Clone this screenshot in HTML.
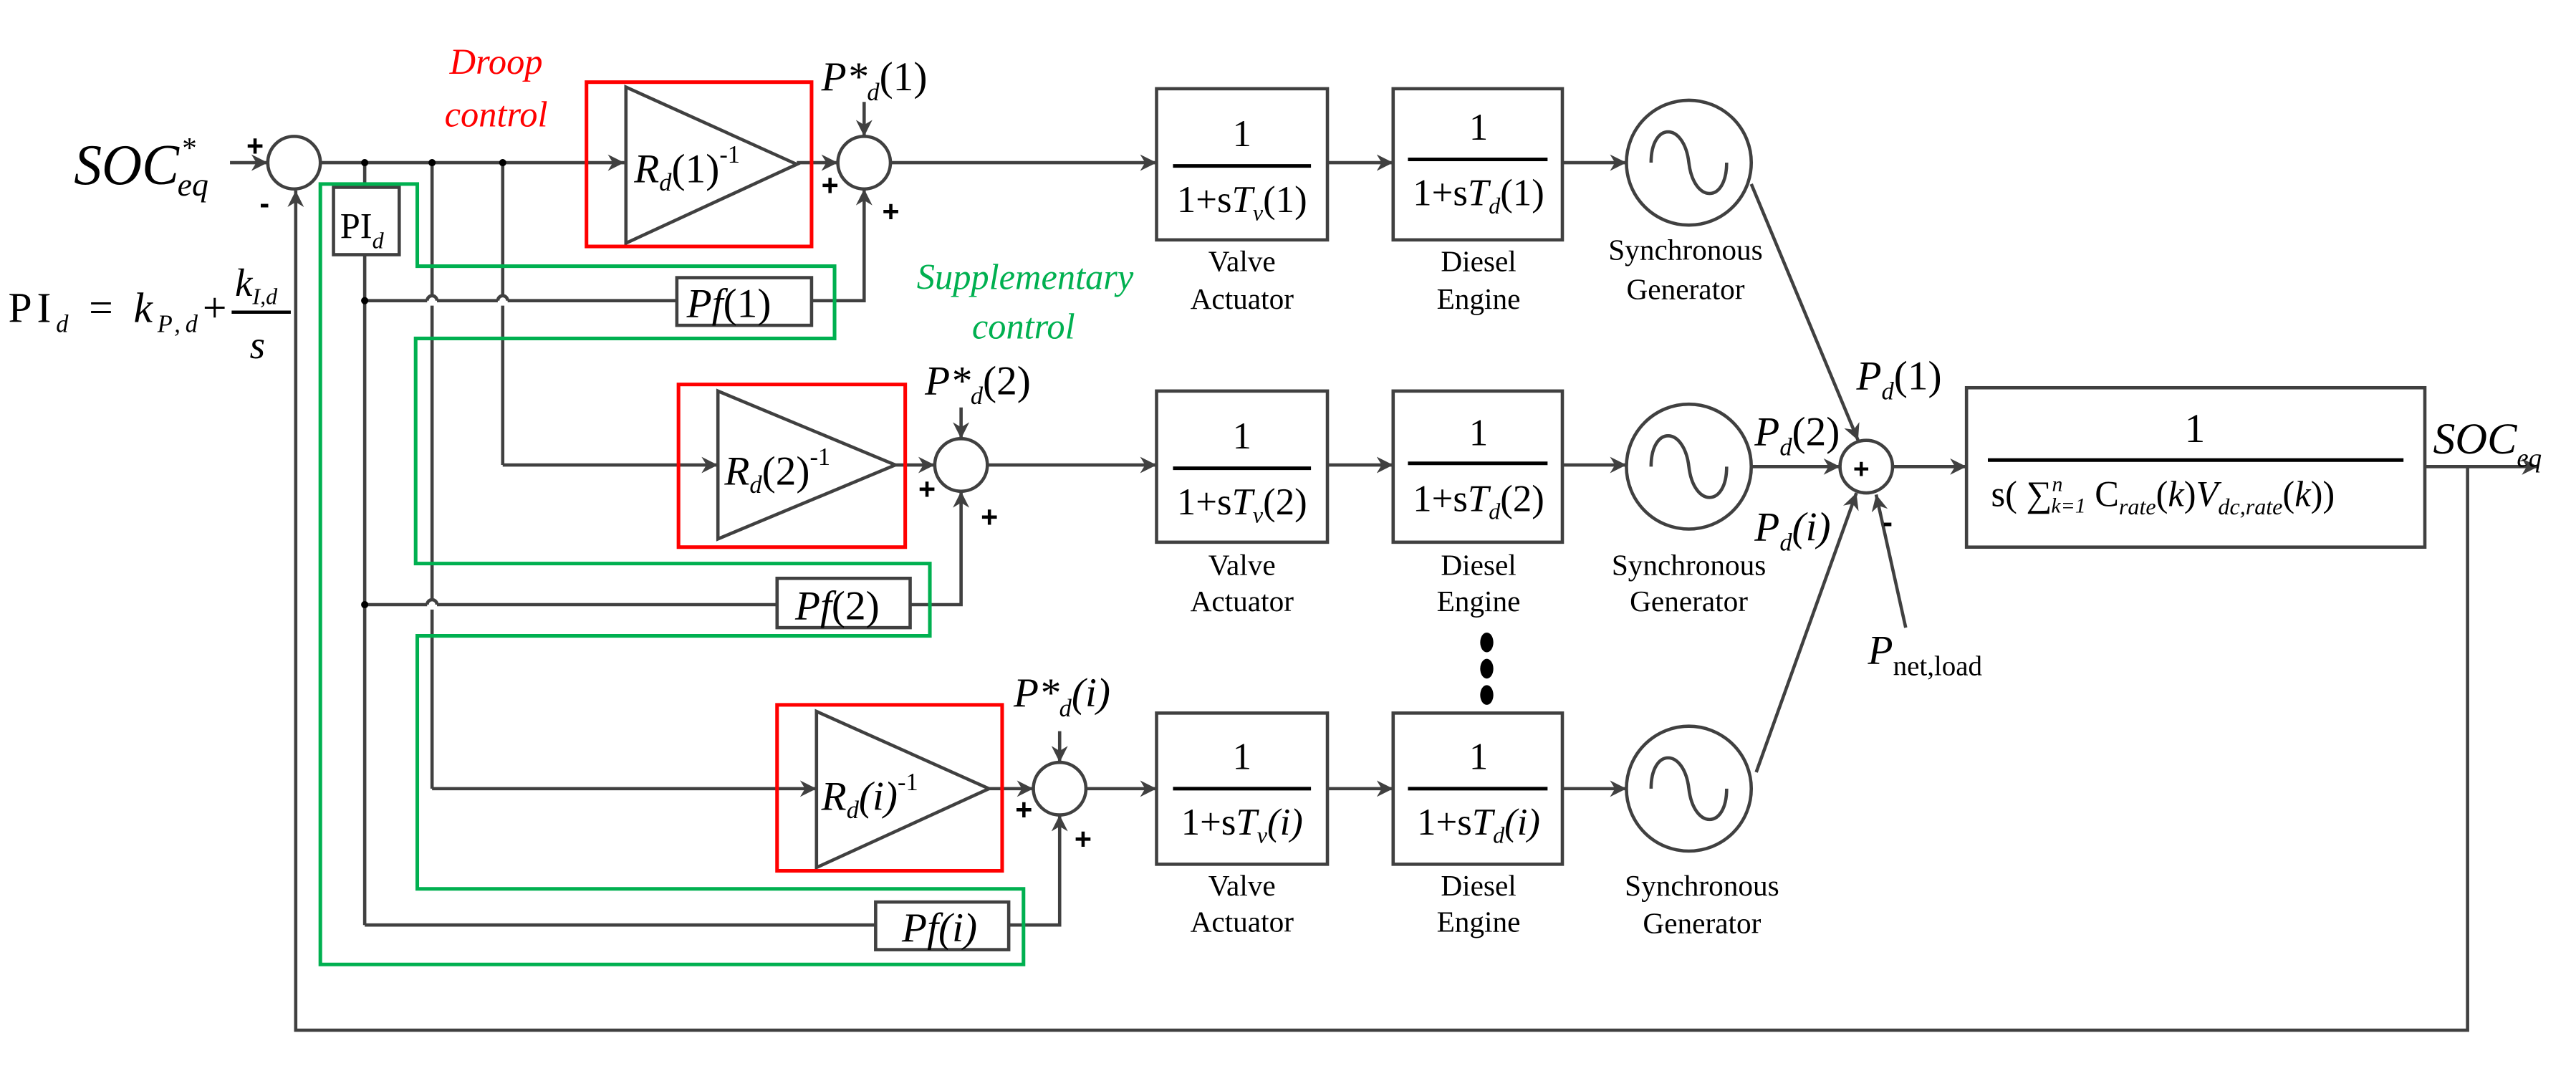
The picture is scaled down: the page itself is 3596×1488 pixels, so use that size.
<!DOCTYPE html>
<html><head><meta charset="utf-8"><style>html,body{margin:0;padding:0;background:#fff}svg{display:block}</style></head><body>
<svg width="3596" height="1488" viewBox="0 0 1568 648.8" preserveAspectRatio="none" xmlns="http://www.w3.org/2000/svg" font-family="Liberation Serif, serif">
<defs><marker id="a" viewBox="0 0 10 10" refX="10" refY="5" markerWidth="10" markerHeight="10" markerUnits="userSpaceOnUse" orient="auto"><path d="M0,0L10,5L0,10L3,5z" fill="#404040"/></marker></defs>
<g stroke="#404040" stroke-width="2" fill="none">
<line x1="140" y1="99" x2="163" y2="99" marker-end="url(#a)"/>
<circle cx="179" cy="99" r="16"/>
<line x1="195" y1="99" x2="380" y2="99" marker-end="url(#a)"/>
<line x1="222" y1="99" x2="222" y2="563"/>
<line x1="263" y1="99" x2="263" y2="180"/><line x1="263" y1="186" x2="263" y2="365"/><line x1="263" y1="371" x2="263" y2="480"/>
<line x1="306" y1="99" x2="306" y2="180"/><line x1="306" y1="186" x2="306" y2="283"/>
<path d="M260,183 a3,3 0 0 1 6,0 M303,183 a3,3 0 0 1 6,0 M260,368 a3,3 0 0 1 6,0"/>
<line x1="306" y1="283" x2="437" y2="283" marker-end="url(#a)"/>
<line x1="263" y1="480" x2="497" y2="480" marker-end="url(#a)"/>
<rect x="203" y="114" width="40" height="41" fill="#fff"/>
<path d="M381,53L381,148L485,100Z"/>
<path d="M437,238L437,328L545,283Z"/>
<path d="M497,433L497,528L602,480Z"/>
<line x1="485" y1="99" x2="510" y2="99" marker-end="url(#a)"/>
<line x1="545" y1="283" x2="569" y2="283" marker-end="url(#a)"/>
<line x1="602" y1="480" x2="629" y2="480" marker-end="url(#a)"/>
<circle cx="526" cy="99" r="16"/><circle cx="585" cy="283" r="16"/><circle cx="645" cy="480" r="16"/>
<line x1="526" y1="62" x2="526" y2="83" marker-end="url(#a)"/>
<line x1="585" y1="248" x2="585" y2="267" marker-end="url(#a)"/>
<line x1="645" y1="445" x2="645" y2="464" marker-end="url(#a)"/>
<line x1="222" y1="183" x2="260" y2="183"/><line x1="266" y1="183" x2="303" y2="183"/><line x1="309" y1="183" x2="412" y2="183"/>
<path d="M494,183H526V115" marker-end="url(#a)"/>
<line x1="222" y1="368" x2="260" y2="368"/><line x1="266" y1="368" x2="473" y2="368"/>
<path d="M554,368H585V299" marker-end="url(#a)"/>
<line x1="222" y1="563" x2="533" y2="563"/>
<path d="M614,563H645V496" marker-end="url(#a)"/>
<rect x="412" y="169" width="82" height="29"/>
<rect x="473" y="352" width="81" height="30"/>
<rect x="533" y="549" width="81" height="29"/>
<line x1="542" y1="99" x2="704" y2="99" marker-end="url(#a)"/>
<line x1="601" y1="283" x2="704" y2="283" marker-end="url(#a)"/>
<line x1="661" y1="480" x2="704" y2="480" marker-end="url(#a)"/>
<rect x="704" y="54" width="104" height="92"/><rect x="848" y="54" width="103" height="92"/>
<rect x="704" y="238" width="104" height="92"/><rect x="848" y="238" width="103" height="92"/>
<rect x="704" y="434" width="104" height="92"/><rect x="848" y="434" width="103" height="92"/>
<line x1="808" y1="99" x2="848" y2="99" marker-end="url(#a)"/>
<line x1="951" y1="99" x2="990" y2="99" marker-end="url(#a)"/>
<line x1="808" y1="283" x2="848" y2="283" marker-end="url(#a)"/>
<line x1="951" y1="283" x2="990" y2="283" marker-end="url(#a)"/>
<line x1="808" y1="480" x2="848" y2="480" marker-end="url(#a)"/>
<line x1="951" y1="480" x2="990" y2="480" marker-end="url(#a)"/>
<circle cx="1028" cy="99" r="38"/><circle cx="1028" cy="284" r="38"/><circle cx="1028" cy="480" r="38"/>
<path d="M1005,99c0,-25 20,-25 23,0s23,25 23,0"/>
<path d="M1005,284c0,-25 20,-25 23,0s23,25 23,0"/>
<path d="M1005,480c0,-25 20,-25 23,0s23,25 23,0"/>
<line x1="1066" y1="112" x2="1131" y2="268" marker-end="url(#a)"/>
<line x1="1066" y1="284" x2="1120" y2="284" marker-end="url(#a)"/>
<line x1="1069" y1="470" x2="1130" y2="300" marker-end="url(#a)"/>
<line x1="1160" y1="382" x2="1142" y2="301" marker-end="url(#a)"/>
<circle cx="1136" cy="284" r="16"/>
<line x1="1152" y1="284" x2="1197" y2="284" marker-end="url(#a)"/>
<rect x="1197" y="236" width="279" height="97"/>
<line x1="1476" y1="284" x2="1545" y2="284" marker-end="url(#a)"/>
<path d="M1502,284V627H180V116" marker-end="url(#a)"/>
</g>
<g stroke="#000" stroke-width="2.2">
<line x1="714" y1="101" x2="798" y2="101"/><line x1="857" y1="97" x2="942" y2="97"/>
<line x1="714" y1="285" x2="798" y2="285"/><line x1="857" y1="282" x2="942" y2="282"/>
<line x1="714" y1="480" x2="798" y2="480"/><line x1="857" y1="480" x2="942" y2="480"/>
<line x1="1210" y1="280" x2="1463" y2="280"/>
</g>
<g stroke="#ff0000" stroke-width="2.2" fill="none">
<rect x="357" y="50" width="137" height="100"/><rect x="413" y="234" width="138" height="99"/><rect x="473" y="429" width="137" height="101"/>
</g>
<path d="M195,112H254V162H508V206H253V343H566V387H254V541H623V587H195Z" stroke="#00b050" stroke-width="2.2" fill="none"/>
<g fill="#000"><circle cx="222" cy="99" r="2.2"/><circle cx="263" cy="99" r="2.2"/><circle cx="306" cy="99" r="2.2"/><circle cx="222" cy="183" r="2.2"/><circle cx="222" cy="368" r="2.2"/>
<ellipse cx="905" cy="391" rx="4" ry="6"/><ellipse cx="905" cy="407" rx="4" ry="6"/><ellipse cx="905" cy="423" rx="4" ry="6"/></g>
<g fill="#000">
<text x="45" y="112" font-size="35" font-style="italic" textLength="64" lengthAdjust="spacingAndGlyphs">SOC</text>
<text x="110" y="96" font-size="18" font-style="italic">*</text>
<text x="108" y="119" font-size="20" font-style="italic">eq</text>
<text x="5" y="196" font-size="26" textLength="133">PI<tspan font-size="15" dy="6" font-style="italic">d</tspan><tspan dy="-6"> = </tspan><tspan font-style="italic">k</tspan><tspan font-size="15" dy="6" font-style="italic">P,d</tspan><tspan dy="-6">+</tspan></text>
<line x1="141" y1="190" x2="177" y2="190" stroke="#000" stroke-width="2"/>
<text x="143" y="180" font-size="24" font-style="italic">k<tspan font-size="14" dy="5">I,d</tspan></text>
<text x="152" y="218" font-size="24" font-style="italic">s</text>
<text x="207" y="145" font-size="22">PI<tspan font-size="14" dy="6" font-style="italic">d</tspan></text>
<g font-size="18" font-weight="bold" font-family="Liberation Sans, sans-serif">
<text x="150" y="95">+</text><text x="158" y="130">-</text>
<text x="500" y="119">+</text><text x="537" y="135">+</text>
<text x="559" y="304">+</text><text x="597" y="321">+</text>
<text x="618" y="499">+</text><text x="654" y="517">+</text>
<text x="1128" y="291" font-size="17">+</text><text x="1146" y="324">-</text>
</g>
<g font-size="25"><text x="386" y="111" font-style="italic">R<tspan font-size="15" dy="5">d</tspan><tspan font-style="normal" dy="-5">(1)</tspan><tspan font-style="normal" font-size="15" dy="-12">-1</tspan></text>
<text x="441" y="295" font-style="italic">R<tspan font-size="15" dy="5">d</tspan><tspan font-style="normal" dy="-5">(2)</tspan><tspan font-style="normal" font-size="15" dy="-12">-1</tspan></text>
<text x="500" y="493" font-style="italic">R<tspan font-size="15" dy="5">d</tspan><tspan dy="-5">(i)</tspan><tspan font-style="normal" font-size="15" dy="-12">-1</tspan></text>
<text x="500" y="55" font-style="italic">P*<tspan font-size="15" dy="6">d</tspan><tspan font-style="normal" dy="-6">(1)</tspan></text>
<text x="563" y="240" font-style="italic">P*<tspan font-size="15" dy="6">d</tspan><tspan font-style="normal" dy="-6">(2)</tspan></text>
<text x="617" y="430" font-style="italic">P*<tspan font-size="15" dy="6">d</tspan><tspan dy="-6">(i)</tspan></text>
<text x="418" y="193" font-style="italic">Pf<tspan font-style="normal">(1)</tspan></text>
<text x="484" y="377" font-style="italic">Pf<tspan font-style="normal">(2)</tspan></text>
<text x="549" y="573" font-style="italic">Pf(i)</text>
</g>
<g font-size="22" fill="#ff0000" font-style="italic" text-anchor="middle"><text x="302" y="45">Droop</text><text x="302" y="77">control</text></g>
<g font-size="22" fill="#00b050" font-style="italic" text-anchor="middle"><text x="624" y="176">Supplementary</text><text x="623" y="206">control</text></g>
<g font-size="23" text-anchor="middle">
<text x="756" y="89">1</text><text x="756" y="129">1+s<tspan font-style="italic">T</tspan><tspan font-size="14" font-style="italic" dy="5">v</tspan><tspan dy="-5">(1)</tspan></text>
<text x="900" y="85">1</text><text x="900" y="125">1+s<tspan font-style="italic">T</tspan><tspan font-size="14" font-style="italic" dy="5">d</tspan><tspan dy="-5">(1)</tspan></text>
<text x="756" y="273">1</text><text x="756" y="313">1+s<tspan font-style="italic">T</tspan><tspan font-size="14" font-style="italic" dy="5">v</tspan><tspan dy="-5">(2)</tspan></text>
<text x="900" y="271">1</text><text x="900" y="311">1+s<tspan font-style="italic">T</tspan><tspan font-size="14" font-style="italic" dy="5">d</tspan><tspan dy="-5">(2)</tspan></text>
<text x="756" y="468">1</text><text x="756" y="508">1+s<tspan font-style="italic">T</tspan><tspan font-size="14" font-style="italic" dy="5">v</tspan><tspan dy="-5" font-style="italic">(i)</tspan></text>
<text x="900" y="468">1</text><text x="900" y="508">1+s<tspan font-style="italic">T</tspan><tspan font-size="14" font-style="italic" dy="5">d</tspan><tspan dy="-5" font-style="italic">(i)</tspan></text>
<text x="1336" y="269" font-size="25">1</text>
</g>
<text x="1212" y="308" font-size="22">s( ∑<tspan font-size="13" font-style="italic" dy="-9">n</tspan><tspan font-size="13" font-style="italic" dy="13" dx="-7">k=1</tspan><tspan dy="-4"> C</tspan><tspan font-size="14" font-style="italic" dy="5">rate</tspan><tspan dy="-5">(</tspan><tspan font-style="italic">k</tspan><tspan>)</tspan><tspan font-style="italic">V</tspan><tspan font-size="14" font-style="italic" dy="5">dc,rate</tspan><tspan dy="-5">(</tspan><tspan font-style="italic">k</tspan><tspan>))</tspan></text>
<g font-size="18" text-anchor="middle">
<text x="756" y="165">Valve</text><text x="756" y="188">Actuator</text>
<text x="900" y="165">Diesel</text><text x="900" y="188">Engine</text>
<text x="1026" y="158">Synchronous</text><text x="1026" y="182">Generator</text>
<text x="756" y="350">Valve</text><text x="756" y="372">Actuator</text>
<text x="900" y="350">Diesel</text><text x="900" y="372">Engine</text>
<text x="1028" y="350">Synchronous</text><text x="1028" y="372">Generator</text>
<text x="756" y="545">Valve</text><text x="756" y="567">Actuator</text>
<text x="900" y="545">Diesel</text><text x="900" y="567">Engine</text>
<text x="1036" y="545">Synchronous</text><text x="1036" y="568">Generator</text>
</g>
<g font-size="25" font-style="italic">
<text x="1130" y="237">P<tspan font-size="15" dy="6">d</tspan><tspan font-style="normal" dy="-6">(1)</tspan></text>
<text x="1068" y="271">P<tspan font-size="15" dy="6">d</tspan><tspan font-style="normal" dy="-6">(2)</tspan></text>
<text x="1068" y="329">P<tspan font-size="15" dy="6">d</tspan><tspan dy="-6">(i)</tspan></text>
<text x="1137" y="404">P<tspan font-size="17" font-style="normal" dy="7">net,load</tspan></text>
<text x="1481" y="276" font-size="27">SOC<tspan font-size="16" dy="8">eq</tspan></text>
</g>
</g>
</svg>
</body></html>
